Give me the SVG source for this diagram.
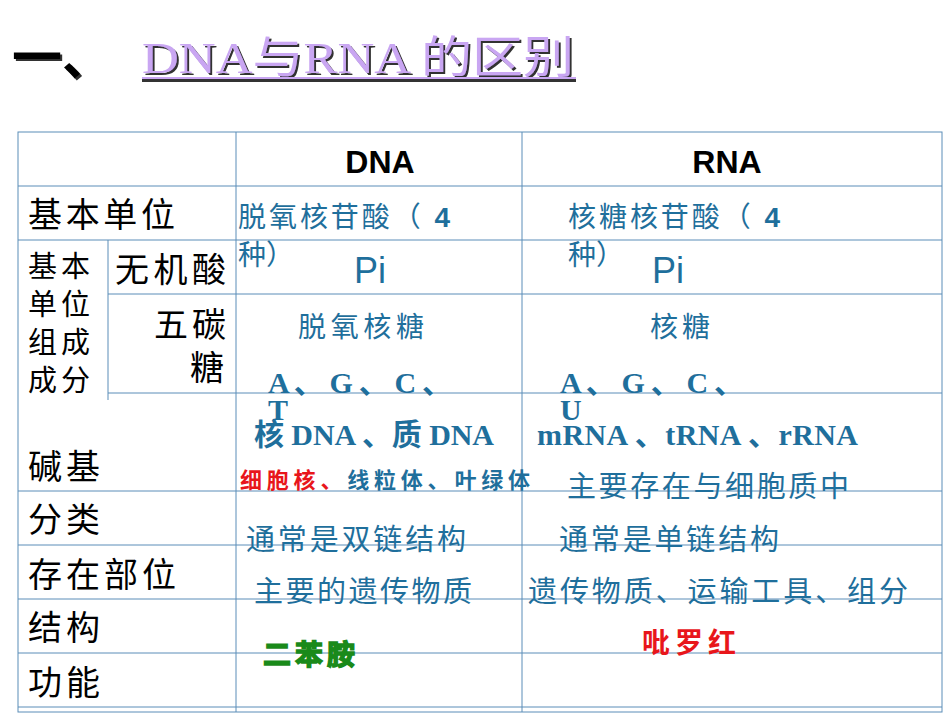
<svg xmlns="http://www.w3.org/2000/svg" width="950" height="713" viewBox="0 0 950 713">
<style>
.g{stroke:#5b8db8;stroke-width:1;fill:none}
.k{font-family:"Liberation Sans","Noto Sans CJK SC",sans-serif;fill:#000}
.b{font-family:"Liberation Sans","Noto Sans CJK SC",sans-serif;fill:#1f6f9c}
.s{font-family:"Liberation Serif","Noto Sans CJK SC",serif;fill:#1f6f9c;font-weight:bold}
</style>
<defs>
<filter id="sh" x="-5%" y="-20%" width="110%" height="140%"><feDropShadow dx="2" dy="2" stdDeviation="0.5" flood-color="#333"/></filter>
</defs>
<rect width="950" height="713" fill="#fff"/>
<g id="title">
<text x="12" y="75" font-family="Noto Sans CJK SC,sans-serif" font-size="50" font-weight="bold" fill="#000" filter="url(#sh)">一、</text>
<text x="142" y="73" font-family="Liberation Serif,Noto Sans CJK SC,serif" font-size="44" fill="#c9a6f2" textLength="432" lengthAdjust="spacingAndGlyphs" filter="url(#sh)">DNA与RNA 的区别</text>
<rect x="142" y="79" width="434" height="3" fill="#333"/>
<rect x="142" y="77" width="434" height="2" fill="#c9a6f2"/>
</g>
<g id="grid" class="g">
<rect x="18" y="132" width="924" height="580"/>
<line x1="236" y1="132" x2="236" y2="712"/>
<line x1="522" y1="132" x2="522" y2="712"/>
<line x1="18" y1="186" x2="942" y2="186"/>
<line x1="18" y1="240" x2="942" y2="240"/>
<line x1="108" y1="294" x2="942" y2="294"/>
<line x1="108" y1="393" x2="942" y2="393"/>
<line x1="108" y1="240" x2="108" y2="400"/>
<line x1="18" y1="491" x2="942" y2="491"/>
<line x1="18" y1="545" x2="942" y2="545"/>
<line x1="18" y1="599" x2="942" y2="599"/>
<line x1="18" y1="653" x2="942" y2="653"/>
<line x1="18" y1="707" x2="942" y2="707"/>
</g>
<g id="header">
<text class="k" x="380" y="173" font-size="32" font-weight="bold" text-anchor="middle">DNA</text>
<text class="k" x="727" y="173" font-size="32" font-weight="bold" text-anchor="middle">RNA</text>
</g>
<g id="labels" class="k">
<text x="28" y="227" font-size="34" textLength="147">基本单位</text>
<text x="28" y="277" font-size="29" textLength="62">基本</text>
<text x="28" y="315" font-size="29" textLength="62">单位</text>
<text x="28" y="353" font-size="29" textLength="62">组成</text>
<text x="28" y="391" font-size="29" textLength="62">成分</text>
<text x="115" y="282" font-size="34" textLength="111">无机酸</text>
<text x="154" y="337" font-size="34" textLength="72">五碳</text>
<text x="190" y="380" font-size="34">糖</text>
<text x="28" y="479" font-size="34" textLength="72">碱基</text>
<text x="28" y="532" font-size="34" textLength="72">分类</text>
<text x="28" y="587" font-size="34" textLength="148">存在部位</text>
<text x="28" y="640" font-size="34" textLength="72">结构</text>
<text x="28" y="695" font-size="34" textLength="72">功能</text>
</g>
<g id="dna">
<text class="b" x="238" y="227" font-size="28" textLength="212">脱氧核苷酸（ <tspan font-weight="bold">4</tspan></text>
<text class="b" x="238" y="265" font-size="28">种）</text>
<text class="b" x="370" y="283" font-size="36" text-anchor="middle">Pi</text>
<text class="b" x="298" y="337" font-size="28" textLength="126">脱氧核糖</text>
<text class="s" x="268" y="393" font-size="30" textLength="184">A 、 G 、 C 、</text>
<text class="s" x="268" y="420" font-size="30">T</text>
<text class="s" x="254" y="445" font-size="30" textLength="240">核 DNA 、质 DNA</text>
<text x="240" y="488" font-size="22" font-family="Liberation Sans,Noto Sans CJK SC,sans-serif" font-weight="bold" textLength="290"><tspan fill="#e8161b">细胞核、</tspan><tspan fill="#1f6f9c">线粒体、叶绿体</tspan></text>
<text class="b" x="246" y="550" font-size="29" textLength="220">通常是双链结构</text>
<text class="b" x="254" y="602" font-size="29" textLength="218">主要的遗传物质</text>
<text x="263" y="665" font-size="28" font-weight="bold" fill="#1a8a1a" stroke="#1a8a1a" stroke-width="1.5" font-family="Noto Sans CJK SC,sans-serif" textLength="92">二苯胺</text>
</g>
<g id="rna">
<text class="b" x="568" y="227" font-size="28" textLength="212">核糖核苷酸（ <tspan font-weight="bold">4</tspan></text>
<text class="b" x="568" y="265" font-size="28">种）</text>
<text class="b" x="668" y="283" font-size="36" text-anchor="middle">Pi</text>
<text class="b" x="650" y="337" font-size="28" textLength="60">核糖</text>
<text class="s" x="560" y="393" font-size="30" textLength="184">A 、 G 、 C 、</text>
<text class="s" x="560" y="420" font-size="30">U</text>
<text class="s" x="537" y="445" font-size="30" textLength="321">mRNA 、tRNA 、rRNA</text>
<text class="b" x="567" y="497" font-size="29" textLength="282">主要存在与细胞质中</text>
<text class="b" x="559" y="550" font-size="29" textLength="220">通常是单链结构</text>
<text class="b" x="528" y="602" font-size="29" textLength="380">遗传物质、运输工具、组分</text>
<text x="642" y="653" font-size="28" font-weight="bold" fill="#e8161b" font-family="Noto Sans CJK SC,sans-serif" textLength="94">吡罗红</text>
</g>
</svg>
